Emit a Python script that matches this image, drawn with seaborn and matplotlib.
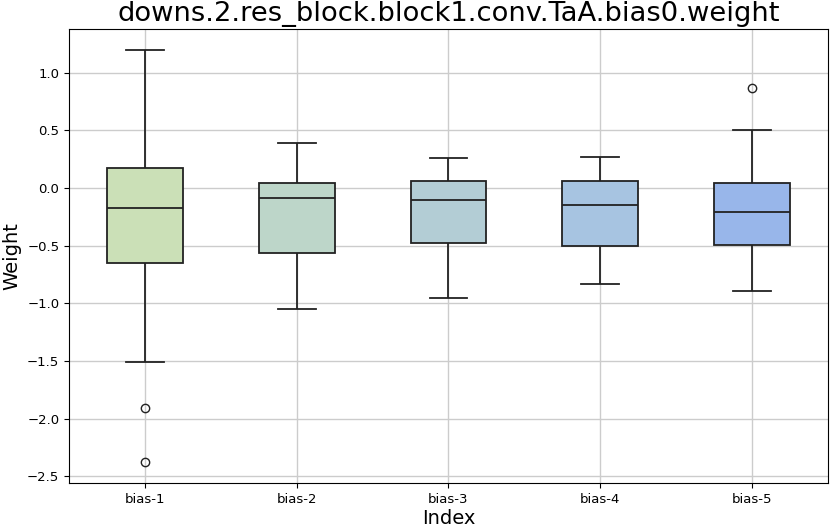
import numpy as np
import pandas as pd
import matplotlib
matplotlib.use("Agg")
import matplotlib.pyplot as plt
import seaborn as sns

# --- data ---
labels = ["bias-1", "bias-2", "bias-3", "bias-4", "bias-5"]

bias_1 = [-2.38, -1.91, -1.51, -0.65, -0.50, -0.30, -0.17, -0.05, 0.05, 0.174, 0.50, 0.80, 1.20]
bias_2 = [-1.045, -0.80, -0.565, -0.30, -0.084, -0.02, 0.04, 0.20, 0.39]
bias_3 = [-0.957, -0.70, -0.476, -0.30, -0.100, 0.00, 0.058, 0.15, 0.258]
bias_4 = [-0.832, -0.70, -0.504, -0.30, -0.148, 0.00, 0.058, 0.15, 0.270]
bias_5 = [-0.890, -0.70, -0.496, -0.35, -0.211, -0.05, 0.046, 0.504, 0.867]

colors = ["#cbe0b7", "#bdd6c9", "#b3cdd5", "#a7c4e1", "#98b6ea"]

values = [bias_1, bias_2, bias_3, bias_4, bias_5]
df = pd.DataFrame({
    "Index": np.repeat(labels, [len(v) for v in values]),
    "Weight": np.concatenate(values),
})

# --- plot ---
fig, ax = plt.subplots(figsize=(8.31, 5.28), dpi=100)
fig.subplots_adjust(left=0.083, right=0.9964, top=0.945, bottom=0.085)

sns.boxplot(
    data=df, x="Index", y="Weight", hue="Index", palette=colors,
    saturation=1, width=0.5, linecolor="#222222", linewidth=1.3, legend=False,
    flierprops={"marker": "o", "markersize": 6, "markerfacecolor": "none",
                "markeredgecolor": "#222222"},
    capwidths=0.25, ax=ax,
)

ax.grid(True, color="#cccccc", linewidth=1)
ax.set_axisbelow(True)
ax.set_title("downs.2.res_block.block1.conv.TaA.bias0.weight", fontsize=19.7)
ax.set_xlabel("Index", fontsize=14, labelpad=2)
ax.set_ylabel("Weight", fontsize=14)
ax.tick_params(labelsize=9.5)

fig.savefig("out.png", dpi=100)
